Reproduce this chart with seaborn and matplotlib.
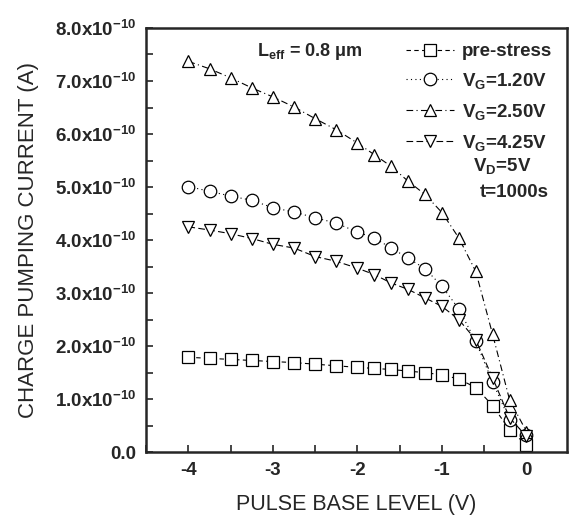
import matplotlib
matplotlib.use('Agg')
import matplotlib.pyplot as plt
import seaborn as sns
import pandas as pd
import numpy as np
from matplotlib.ticker import FuncFormatter, MultipleLocator

# pulse base level (V)
pulse_base = [-4.0, -3.75, -3.5, -3.25, -3.0, -2.75, -2.5, -2.25, -2.0,
              -1.8, -1.6, -1.4, -1.2, -1.0, -0.8, -0.6, -0.4, -0.2, 0.0]

# charge pumping current, in units of 1e-10 A
pre_stress = [1.79, 1.77, 1.75, 1.73, 1.71, 1.69, 1.66, 1.63, 1.60,
              1.58, 1.56, 1.53, 1.50, 1.46, 1.38, 1.22, 0.88, 0.42, 0.14]
vg_120 = [5.01, 4.92, 4.83, 4.75, 4.61, 4.53, 4.42, 4.32, 4.15,
          4.04, 3.85, 3.66, 3.46, 3.13, 2.70, 2.09, 1.32, 0.61, 0.33]
vg_250 = [7.37, 7.23, 7.06, 6.87, 6.70, 6.51, 6.29, 6.08, 5.83,
          5.61, 5.39, 5.11, 4.86, 4.52, 4.04, 3.41, 2.22, 0.99, 0.39]
vg_425 = [4.25, 4.19, 4.12, 4.03, 3.92, 3.85, 3.69, 3.60, 3.47,
          3.35, 3.19, 3.07, 2.91, 2.75, 2.50, 2.12, 1.40, 0.65, 0.30]

series_labels = ["pre-stress", "V$_G$=1.20V", "V$_G$=2.50V", "V$_G$=4.25V"]

sns.set_style("ticks")
plt.rcParams['font.family'] = ['Liberation Sans', 'DejaVu Sans']
plt.rcParams['mathtext.fontset'] = 'custom'
plt.rcParams['mathtext.rm'] = 'Liberation Sans:bold'
plt.rcParams['mathtext.it'] = 'Liberation Sans:bold'
plt.rcParams['mathtext.bf'] = 'Liberation Sans:bold'

fig = plt.figure(figsize=(5.71, 5.18), dpi=100)
ax = fig.add_axes([0.256, 0.127, 0.737, 0.819])

styles = [
    (pre_stress, 's', (0, (4, 3))),
    (vg_120, 'o', (0, (1, 3))),
    (vg_250, '^', (0, (6, 3, 1, 3))),
    (vg_425, 'v', (0, (6, 3))),
]

for (vals, mk, ls), lab in zip(styles, series_labels):
    df = pd.DataFrame({'x': pulse_base, 'y': vals})
    sns.lineplot(data=df, x='x', y='y', ax=ax, color='black', linewidth=0.8,
                 linestyle=ls, marker=mk, markersize=9, markerfacecolor='white',
                 markeredgecolor='black', markeredgewidth=0.9, label=lab,
                 sort=False)

ax.set_xlim(-4.5, 0.48)
ax.set_ylim(0, 8.0)
ax.xaxis.set_major_locator(MultipleLocator(1))
ax.xaxis.set_minor_locator(MultipleLocator(0.5))
ax.yaxis.set_major_locator(MultipleLocator(1))
ax.yaxis.set_minor_locator(MultipleLocator(0.5))


def ylab(v, pos):
    if abs(v) < 1e-9:
        return "0.0"
    return f"{v:.1f}x10$^{{-10}}$"


ax.yaxis.set_major_formatter(FuncFormatter(ylab))
ax.xaxis.set_major_formatter(FuncFormatter(lambda v, p: f"{v:.0f}"))
ax.tick_params(axis='both', which='both', direction='in', length=5, width=1.2,
               labelsize=13.5, pad=7)
for t in ax.get_xticklabels() + ax.get_yticklabels():
    t.set_fontweight('bold')
for sp in ax.spines.values():
    sp.set_linewidth(1.8)

ax.set_xlabel("PULSE BASE LEVEL (V)", fontsize=15.5, labelpad=11)
ax.set_ylabel("CHARGE PUMPING CURRENT (A)", fontsize=16, labelpad=12)

ax.text(0.39, 0.945, "L$_{eff}$ = 0.8 \u03bcm", transform=ax.transAxes,
        fontsize=13, fontweight='bold', ha='center', va='center')

leg = ax.legend(loc='upper right', frameon=False,
                handlelength=2.6, handletextpad=0.4, labelspacing=0.58,
                borderaxespad=0.5, borderpad=0.3,
                prop={'weight': 'bold', 'size': 13.5})

ax.text(0.845, 0.674, "V$_D$=5V", transform=ax.transAxes, fontsize=13.5,
        fontweight='bold', ha='center', va='center')
ax.text(0.875, 0.612, "t=1000s", transform=ax.transAxes, fontsize=13.5,
        fontweight='bold', ha='center', va='center')

plt.savefig("out.png", dpi=100)
plt.close()
